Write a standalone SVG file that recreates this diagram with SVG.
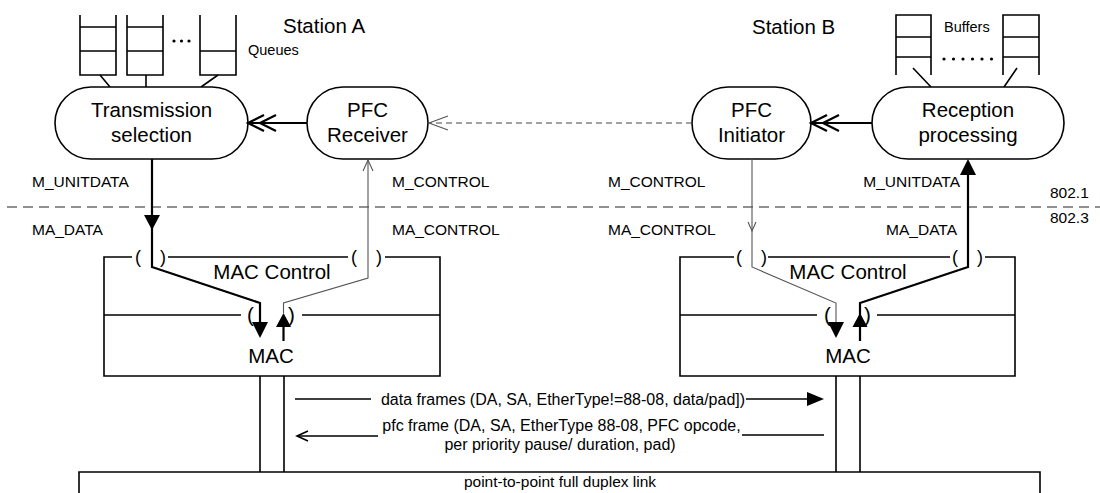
<svg xmlns="http://www.w3.org/2000/svg" width="1100" height="493" viewBox="0 0 1100 493">
<defs>
<style>
text{font-family:"Liberation Sans",Arial,sans-serif;fill:#000}
.big{font-size:20.5px}
.lbl{font-size:15.5px}
.frm{font-size:16px}
.par{font-size:18px}
.sm{font-size:14.5px}
.mid{text-anchor:middle}
.end{text-anchor:end}
.node{fill:#fff;stroke:#000;stroke-width:1.6}
.ln{fill:none;stroke:#000;stroke-width:1.6}
.thick{fill:none;stroke:#000;stroke-width:2.2}
.thin{fill:none;stroke:#555;stroke-width:1.1}
.fill{fill:#000;stroke:none}
.dash{fill:none;stroke:#222;stroke-width:1.1;stroke-dasharray:10,6}
.gdash{fill:none;stroke:#444;stroke-width:1.1;stroke-dasharray:6,4}
.dot{fill:#000}
</style>
</defs>
<rect width="1100" height="493" fill="#fff"/>

<text class="big" x="283" y="33">Station A</text>
<text class="big" x="752" y="34">Station B</text>

<g id="queues">
<path class="ln" d="M80,15V75H116V15M80,27H116M80,51H116"/>
<path class="ln" d="M127,15V75H163V15M127,27H163M127,51H163"/>
<path class="ln" d="M200,15V75H236V15M200,51H236"/>
<circle class="dot" cx="174" cy="41" r="1.6"/><circle class="dot" cx="181.5" cy="41" r="1.6"/><circle class="dot" cx="189" cy="41" r="1.6"/>
<path class="ln" d="M100,75L110,87M146,75V87M218,75L201,87"/>
<text class="sm" x="248" y="55">Queues</text>
</g>

<g id="buffers">
<path class="ln" d="M896,75V15H931V75M896,37H931M896,57H931"/>
<path class="ln" d="M1003,75V15H1039V75M1003,37H1039M1003,57H1039"/>
<circle class="dot" cx="944" cy="59" r="1.6"/><circle class="dot" cx="953.5" cy="59" r="1.6"/><circle class="dot" cx="963" cy="59" r="1.6"/><circle class="dot" cx="972.5" cy="59" r="1.6"/><circle class="dot" cx="982" cy="59" r="1.6"/><circle class="dot" cx="991.5" cy="59" r="1.6"/>
<path class="ln" d="M913,68L931,87M1017,68L1004,87"/>
<text class="sm" x="944" y="32">Buffers</text>
</g>

<g id="transmission-selection">
<rect class="node" x="55" y="87" width="193" height="72" rx="36" ry="36"/>
<text class="big mid" x="151.5" y="117">Transmission</text>
<text class="big mid" x="151.5" y="142">selection</text>
</g>

<g id="pfc-receiver">
<rect class="node" x="307" y="87" width="121" height="72" rx="36" ry="36"/>
<text class="big mid" x="367.5" y="117">PFC</text>
<text class="big mid" x="367.5" y="142">Receiver</text>
</g>

<g id="pfc-initiator">
<rect class="node" x="692" y="87" width="119" height="72" rx="36" ry="36"/>
<text class="big mid" x="751.5" y="117">PFC</text>
<text class="big mid" x="751.5" y="142">Initiator</text>
</g>

<g id="reception-processing">
<rect class="node" x="872" y="87" width="192" height="72" rx="36" ry="36"/>
<text class="big mid" x="968" y="117">Reception</text>
<text class="big mid" x="968" y="142">processing</text>
</g>

<g id="layer-boundary">
<line class="dash" x1="7" y1="207" x2="1100" y2="207"/>
<text class="lbl" x="1050" y="198">802.1</text>
<text class="lbl" x="1050" y="223">802.3</text>
</g>

<g id="mac-control-a">
<path class="ln" d="M132,257H104V376H440V257H385M348,257H168"/>
<path class="ln" d="M104,315H241M302,315H440"/>
<text class="par" x="135" y="263">(</text>
<text class="par" x="160" y="263">)</text>
<text class="par" x="351" y="263">(</text>
<text class="par" x="376" y="263">)</text>
<text class="big" x="247" y="322">(</text>
<text class="big" x="288" y="322">)</text>
<text class="big mid" x="272" y="279">MAC Control</text>
<text class="big mid" x="271" y="363">MAC</text>
</g>

<g id="mac-control-b">
<path class="ln" d="M734,257H680V376H1015V257H985M950,257H768"/>
<path class="ln" d="M680,315H817M877,315H1015"/>
<text class="par" x="736" y="263">(</text>
<text class="par" x="761" y="263">)</text>
<text class="par" x="952" y="263">(</text>
<text class="par" x="977" y="263">)</text>
<text class="big" x="824" y="322">(</text>
<text class="big" x="864" y="322">)</text>
<text class="big mid" x="848" y="279">MAC Control</text>
<text class="big mid" x="848" y="363">MAC</text>
</g>

<g id="link">
<path class="ln" d="M260,376V472M284,376V472M836,376V472M860,376V472"/>
<path class="ln" d="M79,495V472H1040V495"/>
<text class="lbl mid" x="560" y="487">point-to-point full duplex link</text>
</g>

<g id="labels">
<text class="lbl" x="32" y="187">M_UNITDATA</text>
<text class="lbl" x="32" y="235">MA_DATA</text>
<text class="lbl" x="392" y="187">M_CONTROL</text>
<text class="lbl" x="392" y="235">MA_CONTROL</text>
<text class="lbl" x="608" y="187">M_CONTROL</text>
<text class="lbl" x="608" y="235">MA_CONTROL</text>
<text class="lbl end" x="960" y="187">M_UNITDATA</text>
<text class="lbl end" x="957" y="235">MA_DATA</text>
<text class="frm mid" x="563" y="405">data frames (DA, SA, EtherType!=88-08, data/pad])</text>
<text class="frm mid" x="561.5" y="431">pfc frame (DA, SA, EtherType 88-08, PFC opcode,</text>
<text class="frm mid" x="560" y="450">per priority pause/ duration, pad)</text>
</g>

<g id="connectors">
<path class="thick" d="M307,123H250"/>
<path class="thick" d="M264,115L248,123L264,131M276,115L260,123L276,131"/>
<path class="thick" d="M872,123H813"/>
<path class="thick" d="M827,115L811,123L827,131M839,115L823,123L839,131"/>
<path class="gdash" d="M692,123H429"/>
<path class="thin" d="M448,116L429,123L448,130"/>
<path class="thick" d="M152,159V267L260,303V322"/>
<path class="fill" d="M144,215H160L152,230Z"/>
<path class="fill" d="M252,322H268L260,338Z"/>
<path class="thin" d="M368,160V278L283.5,303V313"/>
<path class="thin" d="M363,171L368,160L373,171"/>
<path class="fill" d="M276,327H291L283.5,313Z"/>
<path class="thick" d="M283.5,327V341"/>
<path class="thin" d="M752,159V267L836,303V322"/>
<path class="thin" d="M748,222L752,231L756,222"/>
<path class="fill" d="M828,322H844L836,338Z"/>
<path class="thick" d="M860,341V303L968,267V172"/>
<path class="fill" d="M960,175H976L968,159Z"/>
<path class="fill" d="M852.5,327H867.5L860,313Z"/>
<path class="ln" d="M295,399H371M746,399H808"/>
<path class="fill" d="M807,392V406L824,399Z"/>
<path class="ln" d="M297,436H378M742,435H824"/>
<path class="ln" d="M308,431L297,436L308,441"/>
</g>
</svg>
